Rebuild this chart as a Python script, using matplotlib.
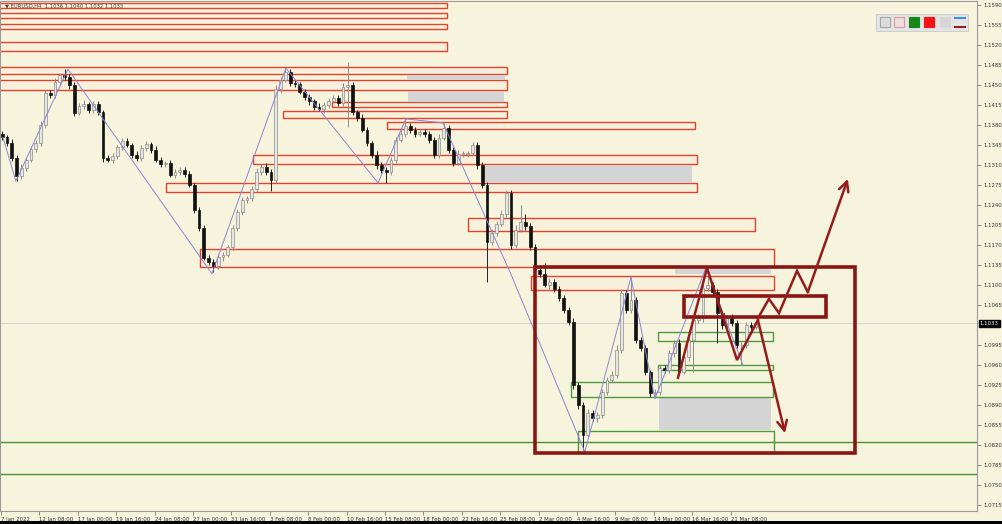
import matplotlib
matplotlib.use("Agg")
import matplotlib.pyplot as plt
from matplotlib.patches import Rectangle
from matplotlib.transforms import blended_transform_factory

# EURUSD H4, each candle below = two H4 bars (x in H4 bar index units)
first_open = 1.1365
closes = [
    1.1359, 1.1349, 1.1322, 1.1291, 1.1305, 1.1319, 1.1338, 1.1349, 1.1380, 1.1436,
    1.1433, 1.1456, 1.1468, 1.1464, 1.1450, 1.1401, 1.1414, 1.1417, 1.1407, 1.1417,
    1.1403, 1.1322, 1.1319, 1.1326, 1.1342, 1.1352, 1.1345, 1.1328, 1.1322, 1.1340,
    1.1347, 1.1337, 1.1319, 1.1312, 1.1314, 1.1293, 1.1298, 1.1302, 1.1295, 1.1275,
    1.1232, 1.1200, 1.1148, 1.1141, 1.1134, 1.1149, 1.1153, 1.1167, 1.1200, 1.1228,
    1.1249, 1.1252, 1.1268, 1.1298, 1.1307, 1.1298, 1.1284, 1.1443, 1.1459, 1.1473,
    1.1454, 1.1452, 1.1438, 1.1429, 1.1422, 1.1412, 1.1408, 1.1415, 1.1422, 1.1428,
    1.1419, 1.1447, 1.1450, 1.1403, 1.1393, 1.1372, 1.1349, 1.1328, 1.1310, 1.1302,
    1.1298, 1.1319, 1.1354, 1.1365, 1.1378, 1.1372, 1.1365, 1.1368, 1.1365, 1.1354,
    1.1328, 1.1358, 1.1375, 1.1337, 1.1314, 1.1330, 1.1330, 1.1331, 1.1345, 1.1310,
    1.1275, 1.1176, 1.1191, 1.1207, 1.1225, 1.1261, 1.1170, 1.1197, 1.1210, 1.1203,
    1.1167, 1.1127, 1.1120, 1.1100, 1.1106, 1.1093, 1.1077, 1.1057, 1.1036, 1.0925,
    1.0890, 1.0838, 1.0876, 1.0868, 1.0873, 1.0913, 1.0934, 1.0943, 1.0987, 1.1086,
    1.1057, 1.1074, 1.1004, 1.0990, 1.0948, 1.0911, 1.0913, 1.0955, 1.0951, 1.0981,
    1.0999, 1.0948, 1.0974, 1.1004, 1.1039, 1.1042, 1.1095, 1.1100, 1.1088, 1.1051,
    1.1030, 1.1042, 1.1034, 1.0995, 1.0995, 1.1030, 1.1027, 1.1033,
]
# wicks in pips above max(open, close) and below min(open, close)
up_wick = [
    5, 4, 6, 5, 7, 4, 6, 5, 8, 6,
    5, 6, 4, 10, 5, 6, 5, 7, 4, 6,
    5, 4, 6, 5, 4, 6, 5, 4, 6, 5,
    5, 4, 6, 5, 4, 5, 6, 4, 5, 5,
    4, 5, 6, 4, 5, 6, 5, 4, 6, 5,
    5, 4, 6, 7, 5, 6, 5, 7, 5, 7,
    6, 5, 4, 6, 5, 4, 6, 5, 6, 4,
    5, 6, 41, 5, 4, 6, 5, 4, 6, 5,
    5, 6, 5, 6, 14, 5, 4, 6, 5, 4,
    5, 6, 9, 5, 4, 6, 5, 4, 6, 5,
    5, 6, 7, 5, 6, 6, 5, 8, 30, 15,
    6, 5, 6, 19, 7, 5, 6, 5, 4, 6,
    5, 6, 7, 6, 5, 6, 5, 7, 8, 8,
    6, 40, 5, 6, 5, 4, 6, 7, 5, 6,
    5, 6, 7, 5, 6, 8, 7, 21, 6, 5,
    6, 5, 7, 5, 6, 5, 6, 4,
]
dn_wick = [
    5, 6, 4, 8, 5, 6, 4, 5, 6, 5,
    6, 5, 4, 5, 6, 5, 4, 6, 5, 6,
    5, 6, 4, 5, 6, 5, 4, 6, 5, 4,
    5, 6, 4, 5, 6, 4, 5, 6, 5, 4,
    6, 5, 4, 5, 11, 5, 6, 4, 5, 6,
    5, 6, 4, 5, 6, 5, 19, 5, 6, 4,
    5, 6, 4, 5, 6, 5, 4, 6, 5, 4,
    6, 5, 70, 6, 5, 4, 6, 5, 6, 5,
    19, 5, 6, 4, 5, 6, 5, 4, 6, 5,
    6, 5, 4, 6, 5, 4, 6, 5, 4, 6,
    5, 70, 6, 5, 4, 5, 6, 5, 4, 6,
    5, 6, 5, 4, 6, 5, 4, 6, 5, 6,
    7, 27, 6, 5, 7, 6, 5, 4, 6, 5,
    6, 5, 6, 5, 6, 7, 5, 6, 5, 4,
    6, 5, 4, 6, 56, 5, 6, 5, 6, 52,
    6, 5, 6, 5, 35, 5, 6, 4,
]

tick_bars = [0, 16, 32, 48, 64, 80, 96, 112, 128, 144, 160, 176, 192, 208, 224, 240, 256, 272, 288, 304]
tick_labels = ["7 Jan 2022", "12 Jan 08:00", "17 Jan 00:00", "19 Jan 16:00", "24 Jan 08:00",
               "27 Jan 00:00", "31 Jan 16:00", "3 Feb 08:00", "8 Feb 00:00", "10 Feb 16:00",
               "15 Feb 08:00", "18 Feb 00:00", "22 Feb 16:00", "25 Feb 08:00", "2 Mar 00:00",
               "4 Mar 16:00", "9 Mar 08:00", "14 Mar 00:00", "16 Mar 16:00", "21 Mar 08:00"]
price_ticks = [1.0715, 1.0750, 1.0785, 1.0820, 1.0855, 1.0890, 1.0925, 1.0960, 1.0995, 1.1065,
               1.1100, 1.1135, 1.1170, 1.1205, 1.1240, 1.1275, 1.1310, 1.1345, 1.1380, 1.1415,
               1.1450, 1.1485, 1.1520, 1.1555, 1.1590]
last_price = 1.1033

# supply zones (bar start, bar end, low, high)
red_zones = [
    (-2, 186, 1.1585, 1.1594), (-2, 186, 1.1568, 1.1576), (-2, 186, 1.1548, 1.1557),
    (-2, 186, 1.1510, 1.1526), (-2, 211, 1.1470, 1.1482), (-2, 211, 1.1442, 1.1459),
    (138, 211, 1.1412, 1.1420), (117.5, 211, 1.1392, 1.1405), (161, 289, 1.1373, 1.1386),
    (105, 290, 1.1312, 1.1328), (68.7, 290, 1.1263, 1.1279), (194.6, 314, 1.1195, 1.1217),
    (83, 322, 1.1132, 1.1163), (221, 322, 1.1091, 1.1116),
]
gray_zones = [
    (169, 210, 1.1459, 1.1468), (169.6, 209.6, 1.1420, 1.1438), (200, 288, 1.1279, 1.1310),
    (281, 321, 1.1119, 1.1132), (274, 321, 1.0847, 1.0904),
]
green_zones = [
    (273.7, 321.7, 1.1002, 1.1018), (273.7, 321.7, 1.0952, 1.0960),
    (237.5, 321.7, 1.0904, 1.0930), (240.4, 322, 1.0806, 1.0845),
]
green_levels = [1.0826, 1.0769]
dark_boxes = [(222.5, 355.8, 1.0806, 1.1132), (284.6, 343.7, 1.1044, 1.1081)]

zz_bar = [0.8, 6.2, 27.9, 87.9, 118.7, 157.1, 168.7, 184.2, 212.1, 243.3, 262.5, 272.5, 293.7, 309.2]
zz_price = [1.1359, 1.1282, 1.1478, 1.1120, 1.1480, 1.1279, 1.1391, 1.1384, 1.1123, 1.0808,
            1.1114, 1.0901, 1.1130, 1.0960]

down_bar = [282.1, 294.2, 306.7, 315.4, 326.7]
down_price = [1.0938, 1.1130, 1.0969, 1.1039, 1.0841]
up_bar = [315.4, 320.0, 324.2, 331.7, 336.2, 352.9]
up_price = [1.1042, 1.1076, 1.1051, 1.1125, 1.1088, 1.1286]

BG = "#f7f4dd"
W, H = 1003, 524
FS = 3.9

fig = plt.figure(figsize=(W / 100, H / 100), dpi=100, facecolor=BG)
ax = fig.add_axes([0, 13 / H, 977 / W, 510 / H], facecolor=BG)
ax.set_xlim(-0.42, 406.7)
ax.set_ylim(1.07048, 1.15973)

for b0, b1, lo, hi in red_zones:
    ax.add_patch(Rectangle((b0, lo), b1 - b0, hi - lo, facecolor=(1.0, 0.84, 0.8, 0.09),
                           edgecolor="#e5412f", lw=1.0, zorder=1))
for b0, b1, lo, hi in gray_zones:
    ax.add_patch(Rectangle((b0, lo), b1 - b0, hi - lo, facecolor="#d4d4d4", edgecolor="none", zorder=1))
for b0, b1, lo, hi in green_zones:
    ax.add_patch(Rectangle((b0, lo), b1 - b0, hi - lo, facecolor="none",
                           edgecolor="#4f9a3c", lw=1.0, zorder=2))
for lvl in green_levels:
    ax.axhline(lvl, color="#4b8f37", lw=1.0, zorder=2)
ax.axhline(last_price, color="#cfcfcf", lw=0.6, zorder=1)

# candles
opens = [first_open] + closes[:-1]
xs = [2 * j + 0.5 for j in range(len(closes))]
for x, o, c, u, d in zip(xs, opens, closes, up_wick, dn_wick):
    top = max(o, c)
    bot = min(o, c)
    bull = c >= o
    wick_col = "#8c8c8c" if bull else "#222222"
    ax.vlines(x, bot - d * 1e-4, top + u * 1e-4, color=wick_col, lw=0.7, zorder=3)
    ax.bar(x, max(top - bot, 0.00008), bottom=bot, width=1.2,
           color="#e6e6e2" if bull else "#111111",
           edgecolor="#8c8c8c" if bull else "#111111", lw=0.5, zorder=3)

ax.plot(zz_bar, zz_price, color="#8a86d6", lw=0.7, zorder=4)

for b0, b1, lo, hi in dark_boxes:
    ax.add_patch(Rectangle((b0, lo), b1 - b0, hi - lo, facecolor="none",
                           edgecolor="#8a1515", lw=2.6, zorder=5))

arrow_col = "#961c1c"
for bx, py in [(down_bar, down_price), (up_bar, up_price)]:
    ax.plot(bx[:-1], py[:-1], color=arrow_col, lw=1.8, zorder=6, solid_joinstyle="miter")
    ax.annotate("", xy=(bx[-1], py[-1]), xytext=(bx[-2], py[-2]),
                arrowprops=dict(arrowstyle="->,head_length=0.7,head_width=0.35",
                                color=arrow_col, lw=1.8, shrinkA=0, shrinkB=0), zorder=6)

# axes styling
for s in ax.spines.values():
    s.set_color("#9a9a9a")
    s.set_linewidth(0.8)
ax.set_xticks(tick_bars)
ax.set_xticklabels(tick_labels)
for lbl in ax.get_xticklabels():
    lbl.set_horizontalalignment("left")
ax.yaxis.tick_right()
ax.set_yticks(price_ticks)
ax.set_yticklabels(["%.4f" % p for p in price_ticks])
ax.tick_params(axis="both", length=3, width=0.6, color="#777777", labelsize=FS,
               labelcolor="#333333", pad=1.5)

tr = blended_transform_factory(ax.transAxes, ax.transData)
ax.text(1.003, last_price, "%.4f" % last_price, transform=tr, fontsize=FS, color="white",
        va="center", ha="left", zorder=7,
        bbox=dict(boxstyle="square,pad=0.2", facecolor="black", edgecolor="black"))

fig.text(5 / W, 1 - 5.5 / H, "\u25bc EURUSD,H4  1.1036 1.1040 1.1032 1.1033", fontsize=3.8,
         color="#444444", va="center", ha="left")


def px_rect(x, y, w, h, **kw):
    fig.add_artist(Rectangle((x / W, 1 - (y + h) / H), w / W, h / H,
                             transform=fig.transFigure, **kw))


# small toolbar at top right
px_rect(876, 14, 92, 17, facecolor="#e4e4e4", edgecolor="#c8c8c8", lw=0.6)
px_rect(880, 17, 10, 10, facecolor="#dcdcdc", edgecolor="#a8a8a8", lw=0.8)
px_rect(894, 17, 10, 10, facecolor="#f1dede", edgecolor="#d99a9a", lw=0.8)
px_rect(909, 17, 10, 10, facecolor="#16891a", edgecolor="#16891a", lw=0.8)
px_rect(924, 17, 10, 10, facecolor="#f81313", edgecolor="#f81313", lw=0.8)
px_rect(940, 17, 10, 10, facecolor="#d6d6d6", edgecolor="#d6d6d6", lw=0.8)
px_rect(954, 17, 12, 1.6, facecolor="#3d8fe0", edgecolor="none")
px_rect(954, 26, 12, 1.6, facecolor="#a01818", edgecolor="none")

px_rect(0, 521, W, 3, facecolor="black", edgecolor="none")

fig.savefig("out.png", dpi=100, facecolor=BG)
